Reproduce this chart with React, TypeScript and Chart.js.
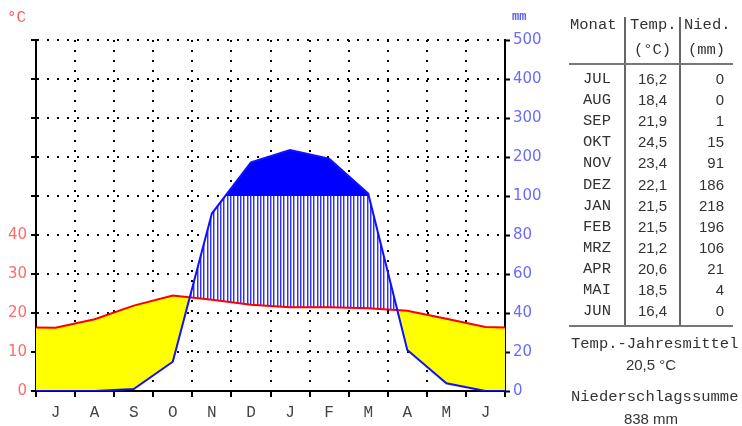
import React, { useEffect, useRef } from 'react';
import { Chart, registerables } from 'chart.js';

Chart.register(...registerables);

const monthLetters = ['J', 'A', 'S', 'O', 'N', 'D', 'J', 'F', 'M', 'A', 'M', 'J'];
const monthNames = ['JUL', 'AUG', 'SEP', 'OKT', 'NOV', 'DEZ', 'JAN', 'FEB', 'MRZ', 'APR', 'MAI', 'JUN'];
const tempText = ['16,2', '18,4', '21,9', '24,5', '23,4', '22,1', '21,5', '21,5', '21,2', '20,6', '18,5', '16,4'];
const temps = [16.2, 18.4, 21.9, 24.5, 23.4, 22.1, 21.5, 21.5, 21.2, 20.6, 18.5, 16.4];
const precip = [0, 0, 1, 15, 91, 186, 218, 196, 106, 21, 4, 0];
const tempTicks = [0, 10, 20, 30, 40];
const precipTicks = [0, 20, 40, 60, 80, 100, 200, 300, 400, 500];
const annualMean = '20,5 °C';
const annualSum = '838 mm';

// Walter-Lieth scale: 10 °C = 20 mm up to 100 mm, above that 100 mm per step
const tUnit = (t: number) => t * 2;
const pUnit = (p: number) => (p <= 100 ? p : 100 + (p - 100) / 5);

const MONO = '"Liberation Mono", "DejaVu Sans Mono", monospace';
const SANS = '"Liberation Sans", Arial, sans-serif';

export default function App() {
  const ref = useRef<HTMLCanvasElement>(null);

  useEffect(() => {
    const canvas = ref.current!;
    const pc = document.createElement('canvas');
    pc.width = 10;
    pc.height = 4;
    const pctx = pc.getContext('2d')!;
    pctx.fillStyle = '#ffffff';
    pctx.fillRect(0, 0, 10, 4);
    [0, 3, 7].forEach((x) => {
      pctx.fillStyle = '#3030ff';
      pctx.fillRect(x, 0, 1, 4);
      pctx.fillStyle = '#a0a0ff';
      pctx.fillRect(x + 1, 0, 1, 4);
    });
    const pattern = canvas.getContext('2d')!.createPattern(pc, 'repeat')!;

    const edgeT = (temps[0] + temps[temps.length - 1]) / 2;
    const edgeP = (precip[0] + precip[precip.length - 1]) / 2;
    const tempData = [
      { x: 0, y: tUnit(edgeT) },
      ...temps.map((t, i) => ({ x: i + 0.5, y: tUnit(t) })),
      { x: 12, y: tUnit(edgeT) },
    ];
    const precipData = [
      { x: 0, y: pUnit(edgeP) },
      ...precip.map((p, i) => ({ x: i + 0.5, y: pUnit(p) })),
      { x: 12, y: pUnit(edgeP) },
    ];
    const yTickVals = precipTicks.map(pUnit);

    const chart = new Chart(canvas, {
      type: 'line',
      data: {
        datasets: [
          {
            data: precipData,
            borderColor: '#1010ff',
            borderWidth: 2,
            pointRadius: 0,
            tension: 0,
            xAxisID: 'x',
            yAxisID: 'y',
            fill: { target: { value: 100 }, above: '#0000ff', below: 'rgba(0,0,0,0)' },
          },
          {
            data: tempData,
            borderColor: '#ff0000',
            borderWidth: 2,
            pointRadius: 0,
            tension: 0,
            xAxisID: 'x',
            yAxisID: 'y',
            fill: { target: 0, above: '#ffff00', below: pattern as any },
          },
        ],
      },
      options: {
        responsive: false,
        maintainAspectRatio: false,
        animation: false,
        layout: { padding: { top: 40, left: 0, right: 0, bottom: 0 } },
        plugins: { legend: { display: false }, tooltip: { enabled: false } },
        scales: {
          x: {
            type: 'linear',
            position: 'bottom',
            min: 0,
            max: 12,
            weight: 0,
            z: 1,
            afterBuildTicks: (s: any) => {
              s.ticks = monthLetters.concat(['']).map((_, i) => ({ value: i }));
            },
            ticks: { display: false },
            grid: { color: '#000', lineWidth: 2, drawTicks: true, tickLength: 6, tickWidth: 2, tickColor: '#000' },
            border: { display: true, color: '#000', width: 2, dash: [2, 8] },
            afterFit: (s: any) => {
              s.height = 6;
            },
          },
          x2: {
            type: 'category',
            labels: monthLetters,
            offset: true,
            position: 'bottom',
            weight: 1,
            grid: { display: false, drawTicks: false },
            border: { display: false },
            ticks: { font: { family: MONO, size: 16 }, color: '#444', padding: 6, maxRotation: 0, autoSkip: false },
            afterFit: (s: any) => {
              s.height = 29;
            },
          },
          y: {
            type: 'linear',
            position: 'left',
            min: 0,
            max: 180,
            z: 1,
            afterBuildTicks: (s: any) => {
              s.ticks = yTickVals.map((v) => ({ value: v }));
            },
            ticks: {
              callback: (v: any) => (tempTicks.includes(v / 2) ? String(v / 2) : ''),
              color: '#ff6b6b',
              font: { family: '"DejaVu Sans", sans-serif', size: 15 },
              padding: 4,
            },
            grid: { color: '#000', lineWidth: 2, tickLength: 5, tickWidth: 2, tickColor: '#000' },
            border: { display: true, color: '#000', width: 2, dash: [2, 8] },
            afterFit: (s: any) => {
              s.width = 36;
            },
          },
          y2: {
            type: 'linear',
            position: 'right',
            min: 0,
            max: 180,
            z: 1,
            afterBuildTicks: (s: any) => {
              s.ticks = yTickVals.map((v) => ({ value: v }));
            },
            ticks: {
              callback: (v: any) => {
                const i = yTickVals.indexOf(v);
                return i >= 0 ? String(precipTicks[i]) : '';
              },
              color: '#6b6bff',
              font: { family: '"DejaVu Sans", sans-serif', size: 15 },
              padding: 3,
            },
            grid: { drawOnChartArea: false, tickLength: 5, tickWidth: 2, tickColor: '#000' },
            border: { display: true, color: '#000', width: 2 },
            afterFit: (s: any) => {
              s.width = 55;
            },
          },
        },
      } as any,
    });
    return () => chart.destroy();
  }, []);

  const rowTop = (i: number) => 79 + i * 21.1 - 10;
  const txt = (extra: React.CSSProperties): React.CSSProperties => ({
    position: 'absolute',
    height: 20,
    lineHeight: '20px',
    whiteSpace: 'nowrap',
    color: '#333',
    ...extra,
  });

  return (
    <div style={{ position: 'fixed', left: 0, top: 0, width: 742, height: 426, background: '#fff', overflow: 'hidden' }}>
      <canvas ref={ref} width={560} height={426} style={{ position: 'absolute', left: 0, top: 0, width: 560, height: 426 }} />
      <div style={txt({ left: 7, top: 8, fontFamily: MONO, fontSize: 16, color: '#ff5a5a' })}>°C</div>
      <div style={txt({ left: 512, top: 7, fontFamily: MONO, fontSize: 12, color: '#5a5aff', fontWeight: 'bold' })}>mm</div>

      <div style={txt({ left: 570, top: 15, fontFamily: MONO, fontSize: 15.5 })}>Monat</div>
      <div style={txt({ left: 630, top: 15, fontFamily: MONO, fontSize: 15.5 })}>Temp.</div>
      <div style={txt({ left: 684, top: 15, fontFamily: MONO, fontSize: 15.5 })}>Nied.</div>
      <div style={txt({ left: 625, width: 55, textAlign: 'center', top: 40, fontFamily: MONO, fontSize: 15.5 })}>(°C)</div>
      <div style={txt({ left: 680, width: 53, textAlign: 'center', top: 40, fontFamily: MONO, fontSize: 15.5 })}>(mm)</div>

      <div style={{ position: 'absolute', left: 624, top: 17, width: 2, height: 310, background: '#666' }} />
      <div style={{ position: 'absolute', left: 679, top: 17, width: 2, height: 310, background: '#666' }} />
      <div style={{ position: 'absolute', left: 569, top: 63, width: 164, height: 2, background: '#777' }} />
      <div style={{ position: 'absolute', left: 569, top: 325, width: 164, height: 2, background: '#777' }} />

      {monthNames.map((m, i) => (
        <div key={'m' + i} style={txt({ left: 569, width: 56, textAlign: 'center', top: rowTop(i), fontFamily: MONO, fontSize: 15.5 })}>
          {m}
        </div>
      ))}
      {tempText.map((t, i) => (
        <div key={'t' + i} style={txt({ left: 625, width: 55, textAlign: 'center', top: rowTop(i), fontFamily: SANS, fontSize: 15 })}>
          {t}
        </div>
      ))}
      {precip.map((p, i) => (
        <div key={'p' + i} style={txt({ left: 680, width: 44, textAlign: 'right', top: rowTop(i), fontFamily: SANS, fontSize: 15 })}>
          {String(p)}
        </div>
      ))}

      <div style={txt({ left: 571, top: 334, fontFamily: MONO, fontSize: 15.5 })}>Temp.-Jahresmittel</div>
      <div style={txt({ left: 571, width: 160, textAlign: 'center', top: 355, fontFamily: SANS, fontSize: 15 })}>{annualMean}</div>
      <div style={txt({ left: 571, top: 387, fontFamily: MONO, fontSize: 15.5 })}>Niederschlagssumme</div>
      <div style={txt({ left: 571, width: 160, textAlign: 'center', top: 409, fontFamily: SANS, fontSize: 15 })}>{annualSum}</div>
    </div>
  );
}
